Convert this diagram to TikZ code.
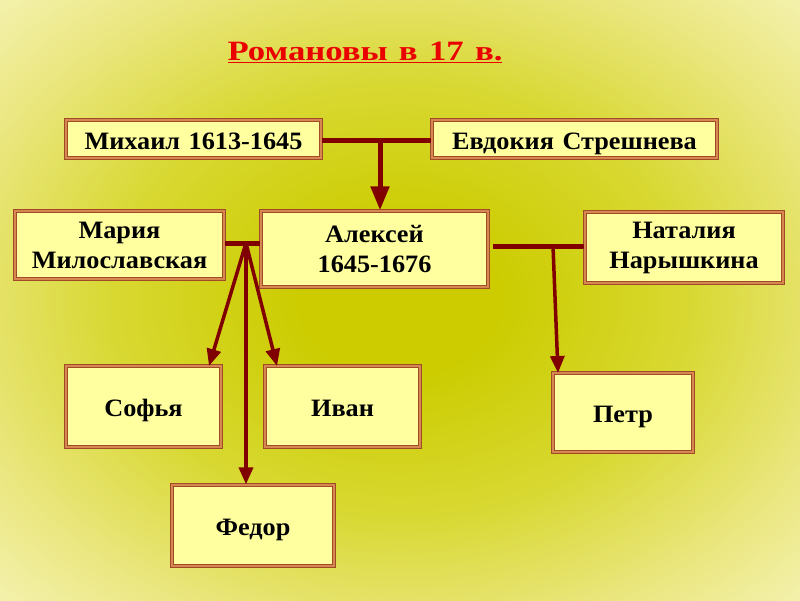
\documentclass[tikz,border=0pt]{standalone}
\usepackage{fontspec}
\setmainfont{Liberation Serif}
\newfontfamily\boxfont[FakeStretch=1.05, WordSpace=1.3]{Liberation Serif}
\newfontfamily\titlefont[FakeStretch=1.24, WordSpace=1.3]{Liberation Serif}
\usetikzlibrary{arrows.meta}
\definecolor{c1}{RGB}{204,204,0}
\definecolor{c2}{RGB}{216,216,50}
\definecolor{c3}{RGB}{234,230,125}
\definecolor{c4}{RGB}{247,245,190}
\definecolor{boxfill}{RGB}{255,255,160}
\definecolor{boxline}{RGB}{160,75,40}
\definecolor{boxlight}{RGB}{215,135,80}
\definecolor{linkred}{RGB}{128,0,0}
\definecolor{titlered}{RGB}{235,0,0}
\pgfdeclareradialshading{bgshade}{\pgfpoint{0bp}{0bp}}{color(0bp)=(c1); color(6bp)=(c1); color(18bp)=(c2); color(28bp)=(c3); color(38bp)=(c4); color(50bp)=(c4)}
\tikzset{
  famBox/.style={draw=boxline, line width=1.3pt, double=boxlight, double distance=1.2pt, fill=boxfill, font=\boxfont\fontsize{25}{30}\selectfont\bfseries, align=center, inner sep=0pt},
  oneLine/.style={text height=22pt, text depth=2pt},
  marriage/.style={draw=linkred, line width=5pt},
  childLink/.style={draw=linkred, line width=3.5pt, -{Triangle[width=14pt,length=17pt]}},
  topLink/.style={draw=linkred, line width=5pt, -{Triangle[width=18pt,length=24pt]}}
}
\begin{document}
\begin{tikzpicture}[x=1pt,y=-1pt]
\useasboundingbox (0,0) rectangle (800,600);
\shade[shading=bgshade] (0,0) rectangle (800,600);

\node[font=\titlefont\fontsize{28}{33}\selectfont\bfseries, text=titlered] (title) at (365,52) {\underline{Романовы в 17 в.}};

\node[famBox, oneLine, minimum width=255pt, minimum height=38pt] (mikh) at (193.5,139) {Михаил 1613-1645};
\node[famBox, oneLine, minimum width=285pt, minimum height=38pt] (evd) at (574.5,139) {Евдокия Стрешнева};
\node[famBox, minimum width=209pt, minimum height=68pt] (maria) at (119.5,245) {Мария\\Милославская};
\node[famBox, minimum width=227pt, minimum height=76pt] (alex) at (374.5,249) {Алексей\\1645-1676};
\node[famBox, minimum width=198pt, minimum height=71pt] (nat) at (684,247.5) {Наталия\\Нарышкина};
\node[famBox, oneLine, minimum width=155pt, minimum height=81pt] (sof) at (143.5,406.5) {Софья};
\node[famBox, oneLine, minimum width=155pt, minimum height=81pt] (ivan) at (342.5,406.5) {Иван};
\node[famBox, oneLine, minimum width=140pt, minimum height=79pt] (petr) at (623,412.5) {Петр};
\node[famBox, oneLine, minimum width=162pt, minimum height=81pt] (fed) at (253,525.5) {Федор};

% Михаил + Евдокия
\coordinate (j1) at (380,140);
\draw[marriage] (mikh.east |- j1) -- (evd.west |- j1);
\draw[topLink] (j1) -- (j1 |- alex.north);

% Мария + Алексей
\coordinate (j2) at (246,243);
\draw[marriage] (maria.east |- j2) -- (alex.west |- j2);
\coordinate (sofTop) at (209,366);
\coordinate (ivanTop) at (277,366);
\draw[childLink] (j2) -- (sofTop);
\draw[childLink] (j2) -- (ivanTop);
\draw[childLink] (j2) -- (j2 |- fed.north);

% Алексей + Наталия
\coordinate (j3) at (553,246);
\draw[marriage] (alex.east |- j3) ++(4,0) -- (nat.west |- j3);
\coordinate (petrTop) at (558,373);
\draw[childLink] (j3) -- (petrTop);
\end{tikzpicture}
\end{document}
